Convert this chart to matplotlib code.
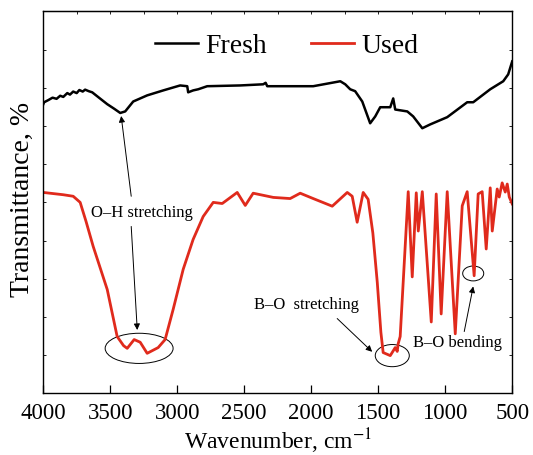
import matplotlib
matplotlib.use("Agg")
import matplotlib.pyplot as plt
from matplotlib.patches import Ellipse

plt.rcParams['font.family'] = ['Liberation Serif', 'DejaVu Serif']
plt.rcParams['mathtext.fontset'] = 'stix'

# FTIR spectra, wavenumber in cm-1, transmittance in arbitrary %
fresh_wn = [4000, 3993, 3960, 3930, 3900, 3873, 3850, 3820, 3800, 3776, 3750, 3730, 3705,
            3687, 3660, 3634, 3580, 3522, 3470, 3425, 3388, 3328, 3224, 3104, 2978,
            2925, 2918, 2881, 2843, 2776, 2530, 2358, 2340, 2328, 2231, 1985, 1783,
            1746, 1709, 1672, 1619, 1560, 1522, 1485, 1410, 1388, 1373, 1283, 1239,
            1171, 1112, 985, 836, 791, 664, 567, 530, 500]
fresh_t = [75.6, 76.2, 76.8, 77.4, 77.1, 77.9, 77.6, 78.6, 78.2, 79.0, 78.6, 79.4, 79.0,
           79.5, 79.1, 78.8, 77.3, 75.7, 74.5, 73.4, 73.8, 76.4, 78.0, 79.3, 80.6,
           80.4, 78.8, 79.3, 79.6, 80.4, 80.6, 80.9, 81.3, 80.4, 80.4, 80.4, 81.7,
           80.9, 79.6, 79.1, 76.4, 70.7, 72.5, 74.9, 74.9, 77.2, 74.3, 73.8, 72.5,
           69.4, 70.4, 72.3, 76.2, 76.2, 79.6, 81.7, 83.5, 86.9]

used_wn = [4000, 3850, 3776, 3724, 3680, 3627, 3522, 3448, 3400, 3373, 3321, 3276, 3224,
           3142, 3090, 3030, 2955, 2881, 2806, 2731, 2664, 2552, 2492, 2433, 2283,
           2157, 2082, 1985, 1843, 1731, 1694, 1657, 1612, 1575, 1540, 1507, 1480, 1463,
           1410, 1373, 1358, 1351, 1336, 1276, 1246, 1216, 1201, 1171, 1104, 1067,
           1030, 985, 925, 873, 836, 784, 754, 724, 694, 664, 649, 612, 597, 575,
           552, 537, 522, 500]
used_t = [52.6, 52.0, 51.6, 50.0, 45.0, 38.5, 27.2, 14.9, 12.5, 11.8, 14.1, 13.4, 10.5,
          12.0, 14.1, 22.0, 32.5, 40.3, 46.3, 50.0, 49.7, 52.6, 49.2, 52.4, 51.3,
          51.0, 52.4, 51.0, 49.0, 52.6, 51.6, 44.8, 52.6, 50.8, 42.0, 29.1, 16.0, 10.7,
          9.9, 12.0, 11.0, 13.0, 14.9, 52.8, 30.5, 52.5, 42.5, 52.8, 18.7, 52.2,
          20.8, 52.8, 15.6, 49.1, 52.8, 30.8, 52.2, 52.8, 37.8, 53.8, 42.5, 53.5, 51.4, 55.1,
          52.7, 54.8, 51.4, 49.6]

fig = plt.figure(figsize=(5.33, 4.56), dpi=100)
ax = fig.add_axes([0.081, 0.135, 0.880, 0.838])

ax.plot(fresh_wn, fresh_t, color='black', lw=1.8, label='Fresh')
ax.plot(used_wn, used_t, color='#e02a1c', lw=2.0, label='Used')

ax.set_xlim(4000, 500)
ax.set_ylim(0, 100)
ax.set_xticks(range(500, 4001, 500))
ax.set_yticks(range(0, 101, 10))
ax.tick_params(axis='x', direction='in', length=6, width=0.9, labelsize=16.5, pad=6)
ax.tick_params(axis='y', direction='in', length=2.5, width=0.6, right=True,
               labelleft=False)
for s in ax.spines.values():
    s.set_linewidth(1.0)

# short ticks along the top edge every 250 cm-1
top = ax.secondary_xaxis('top')
top.set_xticks(range(750, 4000, 250))
top.tick_params(direction='in', length=2.5, width=0.6, labeltop=False)

ax.set_xlabel(r'Wavenumber, cm$^{-1}$', fontsize=17)
ax.xaxis.set_label_coords(0.5, -0.085)
ax.set_ylabel('Transmittance, %', fontsize=20)
ax.yaxis.set_label_coords(-0.017, 0.51)

ax.legend(loc='center', bbox_to_anchor=(0.519, 0.91), ncol=2, frameon=False,
          fontsize=20, handlelength=1.55, handletextpad=0.25, columnspacing=1.6)

arrow = dict(arrowstyle='-|>', lw=0.7, color='black', mutation_scale=9,
             shrinkA=0, shrinkB=0)

# O-H stretching
ax.text(3261, 47.6, 'O\u2013H stretching', fontsize=12, ha='center', va='center')
ax.annotate('', xy=(3418, 72.6), xytext=(3343, 51.6), arrowprops=arrow)
ax.annotate('', xy=(3298, 16.6), xytext=(3343, 43.7), arrowprops=arrow)
ax.add_patch(Ellipse((3284, 11.8), 507, 7.9, fill=False, lw=0.7, color='black'))

# B-O stretching
ax.text(2037, 23.3, 'B\u2013O  stretching', fontsize=12, ha='center', va='center')
ax.annotate('', xy=(1545, 10.9), xytext=(1806, 19.6), arrowprops=arrow)
ax.add_patch(Ellipse((1395, 9.9), 254, 5.8, fill=False, lw=0.7, color='black'))

# B-O bending
ax.text(910, 13.4, 'B\u2013O bending', fontsize=12, ha='center', va='center')
ax.annotate('', xy=(791, 28.0), xytext=(858, 16.2), arrowprops=arrow)
ax.add_patch(Ellipse((791, 31.4), 157, 3.9, fill=False, lw=0.7, color='black'))

fig.savefig('out.png', dpi=100)
